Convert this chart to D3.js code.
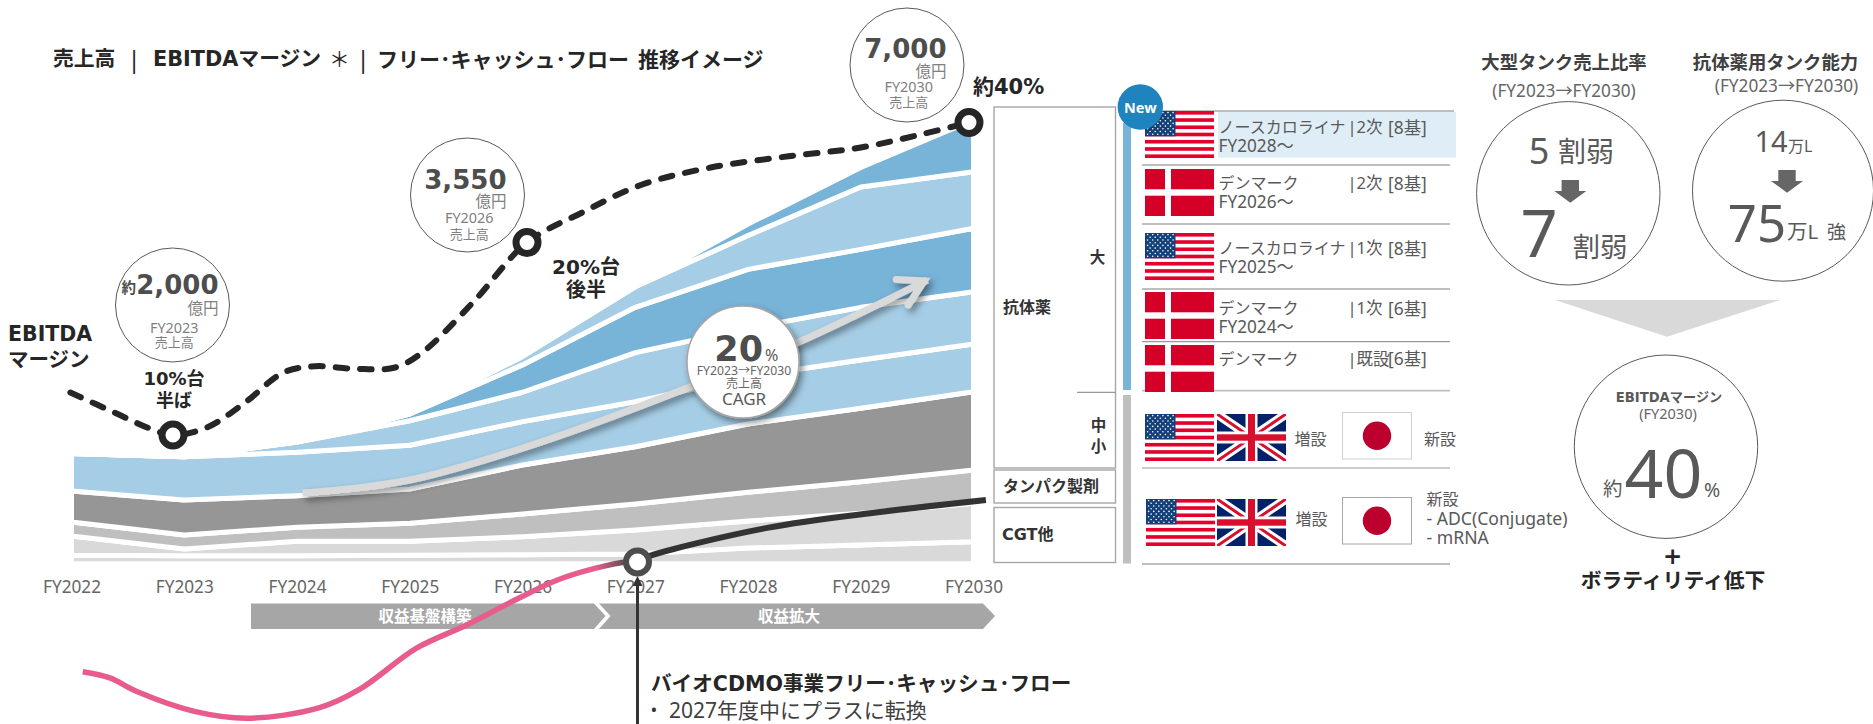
<!DOCTYPE html>
<html lang="ja">
<head>
<meta charset="utf-8">
<title>売上高 EBITDAマージン フリー・キャッシュ・フロー 推移イメージ</title>
<script src="https://cdn.jsdelivr.net/npm/d3@7"></script>
<style>
  html, body { margin: 0; padding: 0; background: #fff; overflow: hidden; }
  svg { display: block; }
</style>
</head>
<body>
<div id="chart"></div>
<script>
// fiscal years on the x axis
const years = [2022, 2023, 2024, 2025, 2026, 2027, 2028, 2029, 2030];

// revenue layers, bottom to top (oku yen)
const cgtThin = [134, 128, 128, 134, 144, 155, 249, 296, 349];
const cgtMain = [304, 106, 227, 221, 284, 378, 426, 500, 606];
const protein = [221, 221, 221, 284, 358, 410, 453, 498, 525];
const smallMid = [489, 552, 498, 541, 773, 904, 1077, 1158, 1235];
const largeA = [591, 683, 684, 689, 683, 710, 746, 762, 752];
const largeB = [0, 0, 162, 388, 464, 773, 763, 831, 825];
const largeC = [0, 0, 0, 106, 431, 716, 930, 915, 1000];
const largeD = [0, 0, 0, 0, 134, 323, 534, 982, 893];
const largeE = [0, 0, 0, 0, 0, 0, 180, 308, 815];
const layerNames = ["cgtThin", "cgtMain", "protein", "smallMid", "largeA", "largeB", "largeC", "largeD", "largeE"];
const layerValues = [cgtThin, cgtMain, protein, smallMid, largeA, largeB, largeC, largeD, largeE];
const layerColors = ["#d9d9d9", "#d9d9d9", "#bfbfbf", "#969696", "#a5cde5", "#a5cde5", "#78b3d8", "#a5cde5", "#78b3d8"];

// EBITDA margin, dashed line
const marginYears = [2021.99, 2022.38, 2022.7, 2022.9, 2023.2, 2023.54, 2023.88, 2024.16, 2024.51, 2024.87, 2025.11, 2025.56, 2026.04, 2026.53, 2027.05, 2027.67, 2028.36, 2029, 2029.56, 2029.96];
const marginValues = [18.4, 16.8, 15.5, 15, 15.6, 17.6, 20, 20.5, 20.3, 20.4, 21.6, 25.6, 30.4, 32.8, 35, 36.4, 37.3, 38, 39.1, 40];
const marginMarkYears = [2022.9, 2026.04, 2029.96];
const marginMarkValues = [15, 30.4, 40];

// free cash flow, index with 0 at the turning point
const fcfNegYears = [2022.1, 2022.34, 2022.58, 2023.09, 2023.56, 2024.2, 2024.55, 2025.06, 2025.5, 2025.97, 2026.31, 2026.65, 2026.92, 2027.02];
const fcfNegValues = [-177, -187, -209, -241, -252, -235, -206, -139, -102, -58, -29, -10, 0, 0];
const fcfPosYears = [2027.02, 2027.1, 2028.17, 2029.19, 2030.11];
const fcfPosValues = [0, 8, 55, 81, 100];

// CAGR arrow through the revenue layers
const cagrYears = [2024.05, 2025, 2025.95, 2027.46, 2028.45, 2029.59];
const cagrValues = [1117, 1321, 1795, 2772, 3498, 4476];

// bubbles
const bubbleAmount = ["2,000", "3,550", "7,000"];
const bubbleYear = ["FY2023", "FY2026", "FY2030"];

// capacity table
const rowNames = ["ノースカロライナ", "デンマーク", "ノースカロライナ", "デンマーク", "デンマーク"];
const rowPhases = ["|2次", "|2次", "|1次", "|1次", "|既設"];
const rowCounts = ["[8基]", "[8基]", "[8基]", "[6基]", "[6基]"];
const rowSince = ["FY2028～", "FY2026～", "FY2025～", "FY2024～", ""];
const rowFlags = ["us", "dk", "us", "dk", "dk"];

const sans = '"Noto Sans","Noto Sans CJK JP",sans-serif';
const bold = '"DejaVu Sans","Noto Sans CJK JP",sans-serif';

let width = 1873,
  height = 724;

let svg = d3
  .select("#chart")
  .append("svg")
  .attr("width", width)
  .attr("height", height)
  .attr("viewBox", "0 0 " + width + " " + height);

let defs = svg.append("defs");

//Soft shadow for the CAGR arrow and bubble
let shadow = defs.append("filter").attr("id", "soft").attr("x", "-30%").attr("y", "-30%").attr("width", "170%").attr("height", "170%");
shadow
  .append("feDropShadow")
  .attr("dx", 3)
  .attr("dy", 4)
  .attr("stdDeviation", 3.5)
  .attr("flood-color", "#000")
  .attr("flood-opacity", 0.45);

//Pink fades into dark just before the marker
let fade = defs
  .append("linearGradient")
  .attr("id", "fade")
  .attr("gradientUnits", "userSpaceOnUse")
  .attr("x1", 596)
  .attr("x2", 628)
  .attr("y1", 0)
  .attr("y2", 0);
fade.append("stop").attr("offset", 0).attr("stop-color", "#e75b8d");
fade.append("stop").attr("offset", 1).attr("stop-color", "#4d4d4d");

//Scales
let x = d3.scaleLinear().domain([2022, 2030]).range([71.5, 973.5]);
let ySales = d3.scaleLinear().domain([0, 7000]).range([563.8, 120]);
let yMargin = d3.scaleLinear().domain([15, 40]).range([435, 122.5]);
let yFcf = d3.scaleLinear().domain([0, 100]).range([562, 500]);

// Writes one text, y is the vertical centre of the glyphs
function label(parent, px, py, str, size, color, family, anchor) {
  return parent
    .append("text")
    .attr("x", px)
    .attr("y", py)
    .attr("dy", "0.36em")
    .attr("font-size", size)
    .attr("fill", color)
    .attr("font-family", family || sans)
    .attr("font-weight", family === bold ? 700 : 400)
    .attr("text-anchor", anchor || "start")
    .text(str);
}

//------------------------------------------------------------------------------------->
//Title
let title = svg.append("g");
label(title, 53, 59, "売上高", 20.8, "#262626", bold);
label(title, 134, 59, "|", 24, "#262626", sans, "middle");
label(title, 153, 59, "EBITDAマージン", 20.8, "#262626", bold);
label(title, 339.5, 60, "＊", 20.8, "#262626", sans, "middle");
label(title, 363, 59, "|", 24, "#262626", sans, "middle");
label(title, 377, 59, "フリー･キャッシュ･フロー", 21, "#262626", bold);
label(title, 638, 59, "推移イメージ", 21, "#262626", bold);

//------------------------------------------------------------------------------------->
//Stacked revenue bands
let table = years.map(function (yr, i) {
  let row = { year: yr };
  layerNames.forEach(function (name, k) {
    row[name] = layerValues[k][i];
  });
  return row;
});

let stacked = d3.stack().keys(layerNames)(table);

let area = d3
  .area()
  .x(function (d) {
    return x(d.data.year);
  })
  .y0(function (d) {
    return ySales(d[0]);
  })
  .y1(function (d) {
    return ySales(d[1]);
  });

svg
  .append("g")
  .selectAll("path")
  .data(stacked)
  .enter()
  .append("path")
  .attr("d", area)
  .attr("fill", function (d, i) {
    return layerColors[i];
  })
  .attr("stroke", "#fff")
  .attr("stroke-width", 5)
  .attr("stroke-linejoin", "round");

//CAGR arrow with its open head
let cagrPoints = cagrYears.map(function (yr, i) {
  return [x(yr), ySales(cagrValues[i])];
});
let tip = cagrPoints[cagrPoints.length - 1];
let cagr = svg.append("g").attr("filter", "url(#soft)");
cagr
  .append("path")
  .attr("d", d3.line().curve(d3.curveMonotoneX)(cagrPoints))
  .attr("fill", "none")
  .attr("stroke", "#d9d9d9")
  .attr("stroke-width", 7);
cagr
  .append("path")
  .attr("d", "M" + (tip[0] - 31) + "," + (tip[1] - 0.5) + "L" + (tip[0] - 3) + "," + (tip[1] + 1) + "L" + (tip[0] - 19) + "," + (tip[1] + 25))
  .attr("fill", "none")
  .attr("stroke", "#d9d9d9")
  .attr("stroke-width", 7)
  .attr("stroke-linecap", "round")
  .attr("stroke-linejoin", "miter");

//CAGR bubble
let cagrBubble = svg.append("g");
cagrBubble
  .append("circle")
  .attr("cx", 743)
  .attr("cy", 362)
  .attr("r", 56)
  .attr("fill", "#fff")
  .attr("stroke", "#a6a6a6")
  .attr("stroke-width", 1.5)
  .attr("filter", "url(#soft)");
label(cagrBubble, 763, 348, "20", 35, "#4d4d4d", bold, "end");
label(cagrBubble, 765, 355, "%", 16, "#595959");
label(cagrBubble, 744, 371, "FY2023→FY2030", 12.2, "#666", sans, "middle");
label(cagrBubble, 744, 384, "売上高", 12, "#666", sans, "middle");
label(cagrBubble, 744, 399, "CAGR", 17, "#595959", sans, "middle");

//------------------------------------------------------------------------------------->
//Revenue bubbles
let bubbleCx = [172.5, 467.5, 907];
let bubbleCy = [305, 195, 65];
let amountDy = [-20, -15.7, -16.7];
let amountEnd = [46, 39, 39.5];
let unitDy = [3, 6.7, 6];
let yearDy = [23, 23, 22];
let salesDy = [37.7, 39, 37.7];
bubbleAmount.forEach(function (amount, i) {
  let g = svg.append("g").attr("transform", "translate(" + bubbleCx[i] + "," + bubbleCy[i] + ")");
  g.append("circle").attr("r", 57).attr("fill", "#fff").attr("stroke", "#595959").attr("stroke-width", 1);
  label(g, amountEnd[i], amountDy[i], amount, 26, "#4d4d4d", bold, "end");
  label(g, amountEnd[i], unitDy[i], "億円", 15.5, "#7f7f7f", sans, "end");
  label(g, 1.7, yearDy[i], bubbleYear[i], 14.4, "#7f7f7f", sans, "middle");
  label(g, 1.7, salesDy[i], "売上高", 13, "#7f7f7f", sans, "middle");
  if (i === 0) label(g, -51, -17, "約", 14.5, "#4d4d4d", bold);
});

//Margin labels
label(svg, 8, 334, "EBITDA", 20.5, "#262626", bold);
label(svg, 8, 360, "マージン", 20.5, "#262626", bold);
label(svg, 174, 379, "10%台", 18, "#262626", bold, "middle");
label(svg, 174, 401, "半ば", 18, "#262626", bold, "middle");
label(svg, 586, 267, "20%台", 20, "#262626", bold, "middle");
label(svg, 586, 290, "後半", 20, "#262626", bold, "middle");
label(svg, 973, 86, "約40%", 21, "#262626", bold);

//------------------------------------------------------------------------------------->
//X axis
let xAxis = svg
  .append("g")
  .attr("transform", "translate(0,577)")
  .call(
    d3
      .axisBottom(x)
      .tickValues(years)
      .tickSize(0)
      .tickFormat(function (d) {
        return "FY" + d;
      })
  );
xAxis.select(".domain").remove();
xAxis.selectAll("text").attr("y", 9.7).attr("dy", "0.36em").attr("font-size", 17.2).attr("font-family", sans).attr("fill", "#666");

//Phase chevrons
let phases = svg.append("g");
phases.append("path").attr("d", "M251,603.5H594L605.5,616L594,629H251Z").attr("fill", "#a6a6a6");
phases.append("path").attr("d", "M599,603.5H983L995,616L983,629H599L610.5,616Z").attr("fill", "#a6a6a6");
label(phases, 425, 616, "収益基盤構築", 15.5, "#fff", bold, "middle");
label(phases, 789, 616, "収益拡大", 15.5, "#fff", bold, "middle");

//------------------------------------------------------------------------------------->
//Free cash flow: negative part then positive part
let fcfLine = d3
  .line()
  .curve(d3.curveCatmullRom.alpha(0.5))
  .x(function (d) {
    return x(d[0]);
  })
  .y(function (d) {
    return yFcf(d[1]);
  });

svg
  .append("path")
  .attr("d", fcfLine(d3.zip(fcfNegYears, fcfNegValues)))
  .attr("fill", "none")
  .attr("stroke", "url(#fade)")
  .attr("stroke-width", 5.5);
svg
  .append("path")
  .attr("d", fcfLine(d3.zip(fcfPosYears, fcfPosValues)))
  .attr("fill", "none")
  .attr("stroke", "#333")
  .attr("stroke-width", 6);

//Pointer from the note up to the FY2027 marker
let turnX = x(fcfPosYears[0]);
svg.append("line").attr("x1", turnX).attr("x2", turnX).attr("y1", 580).attr("y2", 724).attr("stroke", "#333").attr("stroke-width", 3);
svg.append("path").attr("d", "M" + (turnX - 5) + ",586L" + turnX + ",576L" + (turnX + 5) + ",586Z").attr("fill", "#333");
svg
  .append("circle")
  .attr("cx", turnX)
  .attr("cy", yFcf(0))
  .attr("r", 11.5)
  .attr("fill", "#fff")
  .attr("stroke", "#4d4d4d")
  .attr("stroke-width", 6);

label(svg, 651, 684, "バイオCDMO事業フリー･キャッシュ･フロー", 20.6, "#262626", bold);
label(svg, 654, 710, "•", 18, "#333", sans, "middle");
label(svg, 669, 710, "2027年度中にプラスに転換", 21, "#404040");

//------------------------------------------------------------------------------------->
//EBITDA margin dashed line
let marginLine = d3
  .line()
  .curve(d3.curveCatmullRom.alpha(0.5))
  .x(function (d) {
    return x(d[0]);
  })
  .y(function (d) {
    return yMargin(d[1]);
  });

svg
  .append("path")
  .attr("d", marginLine(d3.zip(marginYears, marginValues)))
  .attr("fill", "none")
  .attr("stroke", "#262626")
  .attr("stroke-width", 6)
  .attr("stroke-linecap", "round")
  .attr("stroke-dasharray", "11.5 13");

svg
  .append("g")
  .selectAll("circle")
  .data(d3.zip(marginMarkYears, marginMarkValues))
  .enter()
  .append("circle")
  .attr("cx", function (d) {
    return x(d[0]);
  })
  .attr("cy", function (d) {
    return yMargin(d[1]);
  })
  .attr("r", 11)
  .attr("fill", "#fff")
  .attr("stroke", "#262626")
  .attr("stroke-width", 7);

//------------------------------------------------------------------------------------->
//Flags
function flagUS(px, py) {
  let w = 69,
    h = 47,
    g = svg.append("g").attr("transform", "translate(" + px + "," + py + ")");
  g.append("rect").attr("width", w).attr("height", h).attr("fill", "#fff");
  d3.range(0, 13, 2).forEach(function (s) {
    g.append("rect")
      .attr("y", (s * h) / 13)
      .attr("width", w)
      .attr("height", h / 13)
      .attr("fill", "#e4002b");
  });
  g.append("rect").attr("width", 30.5).attr("height", (7 * h) / 13).attr("fill", "#14407a");
  d3.range(9).forEach(function (r) {
    d3.range(r % 2 ? 5 : 6).forEach(function (c) {
      g.append("circle")
        .attr("cx", 2.6 + c * 5.1 + (r % 2 ? 2.5 : 0))
        .attr("cy", 1.6 + r * 2.7)
        .attr("r", 0.8)
        .attr("fill", "#fff");
    });
  });
}

function flagDK(px, py) {
  let g = svg.append("g").attr("transform", "translate(" + px + "," + py + ")");
  g.append("rect").attr("width", 69).attr("height", 47).attr("fill", "#d50027");
  g.append("rect").attr("x", 20).attr("width", 6).attr("height", 47).attr("fill", "#fff");
  g.append("rect").attr("y", 20.3).attr("width", 69).attr("height", 6.4).attr("fill", "#fff");
}

let ukCount = 0;
function flagUK(px, py) {
  let w = 69,
    h = 47,
    id = "uk" + ukCount++;
  defs.append("clipPath").attr("id", id).append("rect").attr("width", w).attr("height", h);
  let g = svg
    .append("g")
    .attr("transform", "translate(" + px + "," + py + ")")
    .attr("clip-path", "url(#" + id + ")");
  g.append("rect").attr("width", w).attr("height", h).attr("fill", "#012169");
  let diag = "M0,0L" + w + "," + h + "M" + w + ",0L0," + h;
  g.append("path").attr("d", diag).attr("stroke", "#fff").attr("stroke-width", 9);
  g.append("path").attr("d", diag).attr("stroke", "#d8102e").attr("stroke-width", 3);
  g.append("rect").attr("x", 28.5).attr("width", 12).attr("height", h).attr("fill", "#fff");
  g.append("rect").attr("y", 17.5).attr("width", w).attr("height", 12).attr("fill", "#fff");
  g.append("rect").attr("x", 31).attr("width", 7).attr("height", h).attr("fill", "#d8102e");
  g.append("rect").attr("y", 20.3).attr("width", w).attr("height", 6.4).attr("fill", "#d8102e");
}

function flagJP(py, border) {
  svg
    .append("rect")
    .attr("x", 1342.5)
    .attr("y", py)
    .attr("width", 69)
    .attr("height", 46.5)
    .attr("fill", "#fff")
    .attr("stroke", border)
    .attr("stroke-width", 1);
  svg
    .append("circle")
    .attr("cx", 1377)
    .attr("cy", py + 23.3)
    .attr("r", 14.2)
    .attr("fill", "#bc002d");
}

//------------------------------------------------------------------------------------->
//Category boxes
function box(bx, by, bw, bh) {
  svg
    .append("rect")
    .attr("x", bx)
    .attr("y", by)
    .attr("width", bw)
    .attr("height", bh)
    .attr("fill", "#fff")
    .attr("stroke", "#a6a6a6")
    .attr("stroke-width", 1.4);
}
box(994, 107, 121.5, 361);
box(994, 470, 121.5, 33);
box(994, 507.5, 121.5, 55);
svg.append("line").attr("x1", 1077).attr("x2", 1115.5).attr("y1", 392.3).attr("y2", 392.3).attr("stroke", "#7f7f7f").attr("stroke-width", 1);
label(svg, 1003, 307, "抗体薬", 16, "#333", bold);
label(svg, 1097.5, 257, "大", 15.5, "#333", bold, "middle");
label(svg, 1098.5, 425.5, "中", 15.5, "#333", bold, "middle");
label(svg, 1098.5, 446, "小", 15.5, "#333", bold, "middle");
label(svg, 1003, 486, "タンパク製剤", 16, "#333", bold);
label(svg, 1002, 534, "CGT他", 16, "#333", bold);

//Side bars
svg.append("rect").attr("x", 1123).attr("y", 123).attr("width", 8).attr("height", 267).attr("fill", "#78b3d8");
svg.append("rect").attr("x", 1123).attr("y", 395).attr("width", 8).attr("height", 168.5).attr("fill", "#bfbfbf");

//Table rules and the highlighted row
svg.append("rect").attr("x", 1218).attr("y", 112).attr("width", 238).attr("height", 45.7).attr("fill", "#dfeef6");
let ruleY = [111, 165, 224, 289, 341.7, 390.7, 468, 564];
let ruleC = ["#bfbfbf", "#bfbfbf", "#bfbfbf", "#bfbfbf", "#999", "#bfbfbf", "#999", "#bfbfbf"];
ruleY.forEach(function (ry, i) {
  svg
    .append("line")
    .attr("x1", 1142)
    .attr("x2", i === 0 ? 1454 : 1450)
    .attr("y1", ry)
    .attr("y2", ry)
    .attr("stroke", ruleC[i])
    .attr("stroke-width", ruleC[i] === "#999" ? 1.2 : 1.8);
});

//Table rows
let rowFlagY = [111, 169, 233, 292, 345];
let rowTextY = [127.3, 183.3, 248.3, 308.3, 359];
rowNames.forEach(function (name, i) {
  if (rowFlags[i] === "us") flagUS(1145, rowFlagY[i]);
  else flagDK(1145, rowFlagY[i]);
  label(svg, 1218.5, rowTextY[i], name, 16, "#595959");
  label(svg, 1347.5, rowTextY[i], rowPhases[i], 16.5, "#595959");
  label(svg, 1388, rowTextY[i], rowCounts[i], 17.4, "#595959");
  if (rowSince[i]) label(svg, 1218.5, rowTextY[i] + 19, rowSince[i], 17.2, "#595959");
});

flagUS(1145, 414);
flagUK(1217, 414);
flagJP(412.5, "#d0d0d0");
label(svg, 1294.5, 439, "増設", 16, "#595959");
label(svg, 1424, 439, "新設", 16, "#595959");

flagUS(1146, 499);
flagUK(1217, 499);
flagJP(497.5, "#a6a6a6");
label(svg, 1295.5, 519, "増設", 16, "#595959");
label(svg, 1426.5, 499, "新設", 16, "#595959");
label(svg, 1426.5, 519, "- ADC(Conjugate)", 17.6, "#595959");
label(svg, 1426.5, 538, "- mRNA", 17.6, "#595959");

//New badge
svg.append("circle").attr("cx", 1140.3).attr("cy", 107).attr("r", 22.7).attr("fill", "#1f83be");
label(svg, 1140.3, 108, "New", 14.5, "#fff", '"Noto Sans"', "middle").attr("font-weight", 700);

//------------------------------------------------------------------------------------->
//Right hand circles
function ring(cx, cy, r) {
  svg.append("circle").attr("cx", cx).attr("cy", cy).attr("r", r).attr("fill", "#fff").attr("stroke", "#595959").attr("stroke-width", 1);
}
function downArrow(cx, top) {
  let half = 16,
    shaft = 8.7;
  svg
    .append("path")
    .attr(
      "d",
      "M" + (cx - shaft) + "," + top + "H" + (cx + shaft) + "V" + (top + 11) + "H" + (cx + half) + "L" + cx + "," + (top + 22.7) + "L" + (cx - half) + "," + (top + 11) + "H" + (cx - shaft) + "Z"
    )
    .attr("fill", "#666");
}

label(svg, 1564, 62.7, "大型タンク売上比率", 18.4, "#404040", bold, "middle");
label(svg, 1564, 91, "(FY2023→FY2030)", 17.2, "#666", sans, "middle");
label(svg, 1775.5, 62.7, "抗体薬用タンク能力", 18.4, "#404040", bold, "middle");
label(svg, 1786.5, 85.7, "(FY2023→FY2030)", 17.2, "#666", sans, "middle");

ring(1568.3, 193.3, 91.7);
label(svg, 1539, 151, "5", 36, "#595959", sans, "middle");
label(svg, 1558, 152, "割弱", 28, "#595959");
downArrow(1570.3, 180);
label(svg, 1539, 233.5, "7", 65, "#595959", sans, "middle");
label(svg, 1572.5, 247, "割弱", 27.5, "#595959");

ring(1783, 190.7, 90.5);
label(svg, 1771, 142, "14", 29, "#595959", sans, "middle");
label(svg, 1788, 146, "万L", 16, "#595959");
downArrow(1787, 170);
label(svg, 1757, 223.5, "75", 51, "#595959", sans, "middle");
label(svg, 1787, 232, "万L", 20.5, "#595959");
label(svg, 1827, 232, "強", 19, "#595959");

//Down wedge
svg.append("path").attr("d", "M1555,300H1780L1667,336.7Z").attr("fill", "#d9d9d9");

ring(1666, 446.7, 91.7);
label(svg, 1669, 397, "EBITDAマージン", 13.2, "#595959", bold, "middle");
label(svg, 1668, 414, "(FY2030)", 14.5, "#666", sans, "middle");
label(svg, 1603, 489, "約", 19.5, "#595959");
label(svg, 1663.5, 473.5, "40", 68, "#595959", sans, "middle");
label(svg, 1704, 490, "%", 19.5, "#595959");

label(svg, 1672.7, 556, "+", 23, "#262626", bold, "middle");
label(svg, 1673, 580.7, "ボラティリティ低下", 20.8, "#262626", bold, "middle");
</script>
</body>
</html>
